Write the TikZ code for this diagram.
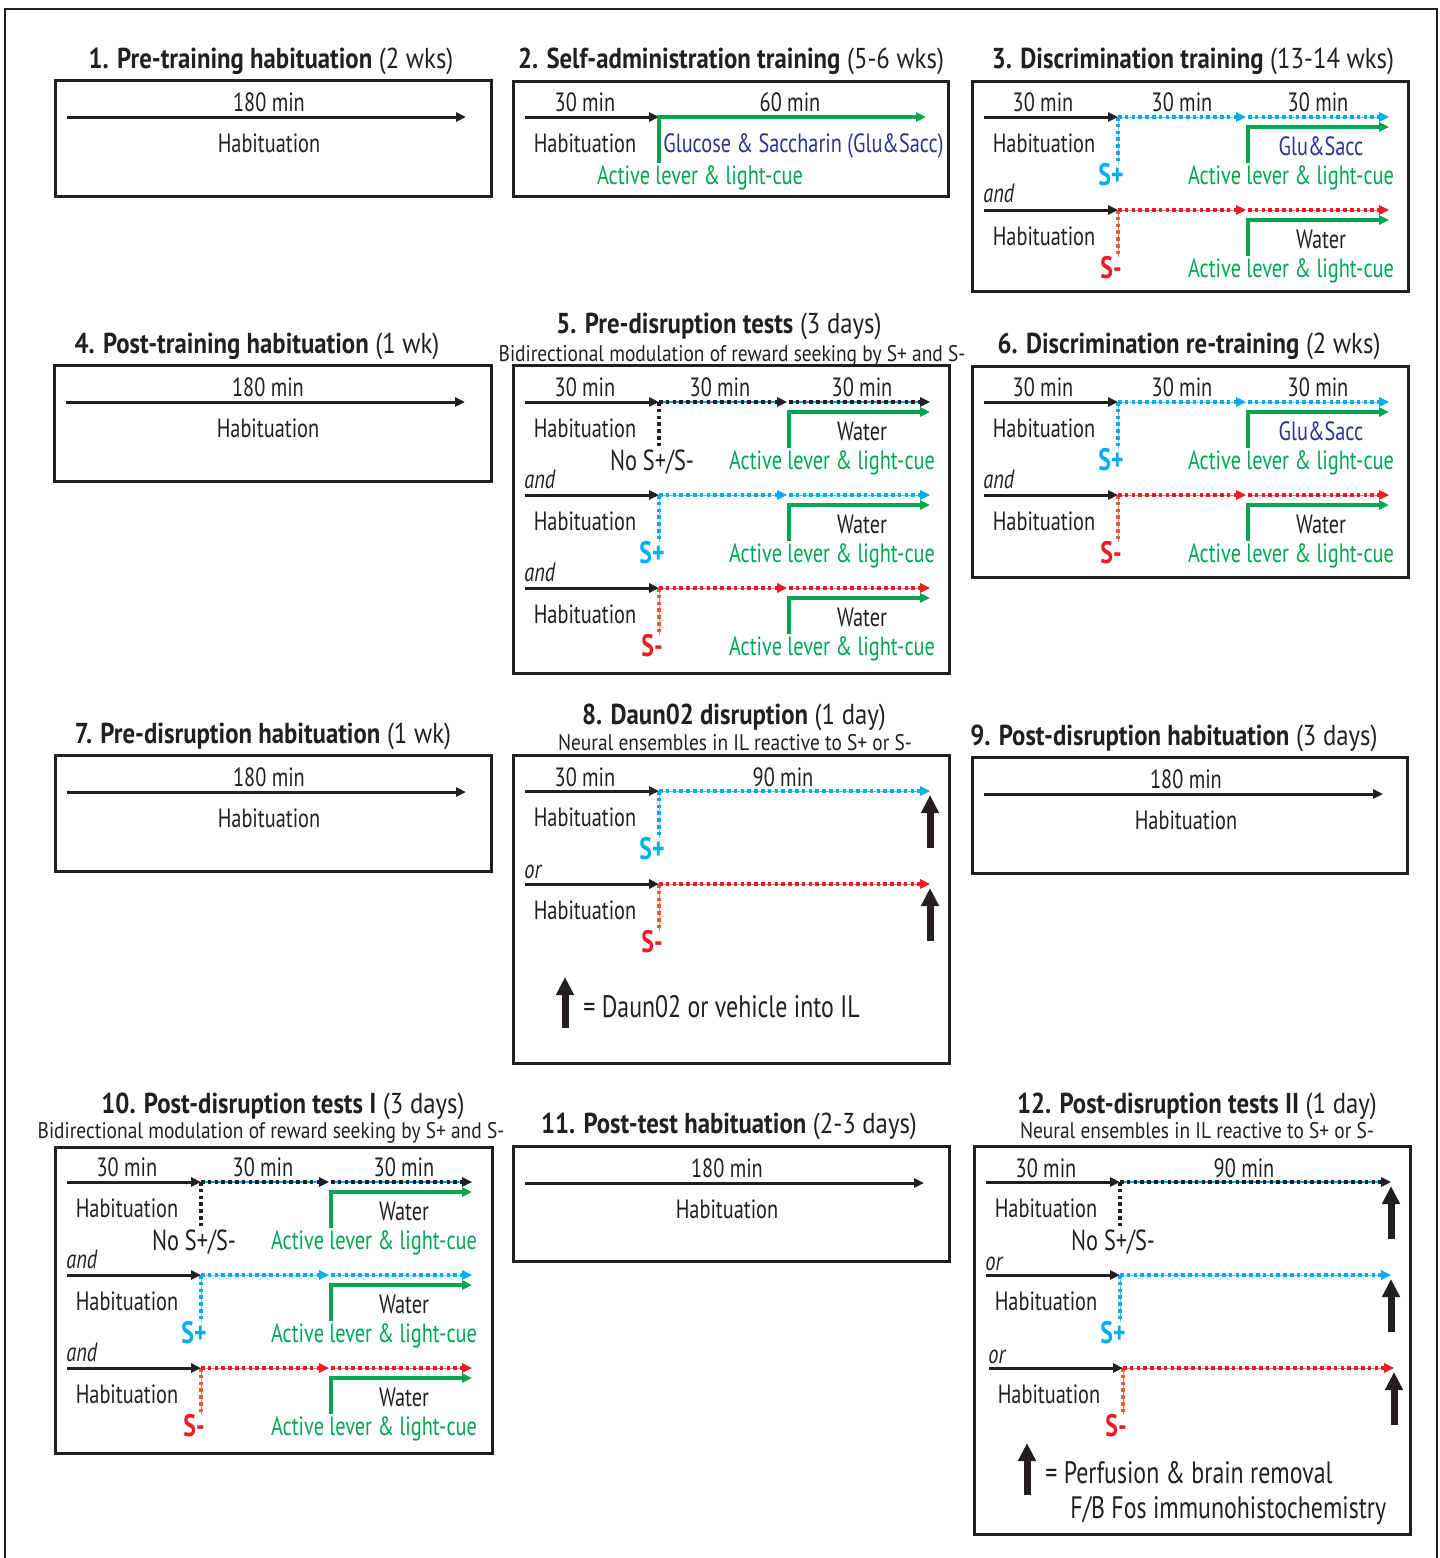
\documentclass[tikz,border=0pt]{standalone}
\usepackage{fontspec}
\setmainfont{PT Sans}[FakeStretch=0.77]
\newfontfamily\ttlfont{PT Sans}[FakeStretch=0.86]
\usetikzlibrary{arrows.meta,fit}
\definecolor{txt}{HTML}{231F20}
\definecolor{cy}{HTML}{00AEEF}
\definecolor{rd}{HTML}{ED1C24}
\definecolor{ro}{HTML}{F15A29}
\definecolor{gr}{HTML}{00A651}
\definecolor{nv}{HTML}{2E3192}
\tikzset{
  lbl/.style={anchor=base,inner sep=0pt,text=txt,font=\fontsize{13.2}{15}\selectfont},
  lblw/.style={lbl,anchor=base west},
  ttl/.style={anchor=base,inner sep=0pt,text=txt,font=\ttlfont\fontsize{14.4}{16}\selectfont},
  subt/.style={anchor=base,inner sep=0pt,text=txt,font=\ttlfont\fontsize{11.3}{13}\selectfont},
  andl/.style={lblw,font=\itshape\fontsize{13.2}{15}\selectfont},
  cueP/.style={lbl,text=cy,font=\bfseries\fontsize{15.5}{17}\selectfont},
  cueM/.style={lbl,text=rd,font=\bfseries\fontsize{15.5}{17}\selectfont},
  cueN/.style={lbl,font=\fontsize{14.5}{16}\selectfont},
  legend/.style={lblw,font=\fontsize{15.5}{17}\selectfont},
  frame/.style={draw=txt,line width=1.5pt,inner sep=0pt},
  tip/.style={-{Triangle[length=5pt,width=4.5pt]}},
  blk/.style={draw=txt,line width=1.5pt,tip},
  grn/.style={draw=gr,line width=1.6pt,tip},
  dots/.style={line width=1.7pt,dash pattern=on 1.8pt off 1.6pt},
  cyl/.style={draw=cy,dots,tip,
     preaction={draw=cy!60,line width=0.5pt,solid}},
  rdl/.style={draw=rd,dots,tip,
     preaction={draw=rd!60,line width=0.5pt,solid}},
  nol/.style={draw=txt,dots,tip,
     preaction={draw=cy,line width=0.6pt,solid}},
  cyl-v/.style={draw=cy,dots,
     preaction={draw=cy!60,line width=0.5pt,solid}},
  rdl-v/.style={draw=ro,dots,
     preaction={draw=rd!60,line width=0.5pt,solid}},
  nol-v/.style={draw=txt,dots},
  bigup/.style={draw=txt,line width=3.5pt,-{Triangle[length=9pt,width=8.5pt]}},
}
% simple habituation box
\newcommand\SimpleBox[5]{%
  \coordinate (#1tl) at (#2,#3);
  \coordinate (#1br) at (#4,#5);
  \node[frame,fit=(#1tl)(#1br)] (#1) {};
  \coordinate (#1a) at (#2+12,#3+37);
  \coordinate (#1b) at (#2+411,#3+37);
  \draw[blk] (#1a) -- (#1b);
  \node[lbl] (#1t) at (#2+214,#3+31) {180 min};
  \node[lbl] (#1h) at (#2+214,#3+72) {Habituation};
}
% box frame only
\newcommand\FrameBox[5]{%
  \coordinate (#1tl) at (#2,#3);
  \coordinate (#1br) at (#4,#5);
  \node[frame,fit=(#1tl)(#1br)] (#1) {};
}
% three-phase row
\newcommand\TriRow[7]{%
  \coordinate (#1s) at (#2+12,#3);
  \coordinate (#1m) at (#2+146,#3);
  \coordinate (#1n) at (#2+276,#3);
  \coordinate (#1e) at (#2+417,#3);
  \coordinate (#1v) at (#2+146,#3+47);
  \coordinate (#1g) at (#2+276,#3+46);
  \coordinate (#1gt) at (#2+276,#3+10);
  \coordinate (#1ge) at (#2+417,#3+10);
  \draw[#4-v] (#1m) -- (#1v);
  \draw[blk] (#1s) -- (#1m);
  \draw[#4,shorten >=1pt] (#1m) -- (#1n);
  \draw[#4] (#1n) -- (#1e);
  \draw[grn] (#1g) -- (#1gt) -- (#1ge);
  \node[lbl] (#1h) at (#2+72,#3+35) {Habituation};
  \node[#5] (#1c) at (#2+139,#3+68) {#6};
  \node[lbl] (#1r) at (#2+349,#3+38) {#7};
  \node[lbl,text=gr] (#1l) at (#2+319,#3+67) {Active lever \& light-cue};
}
% two-phase row with up arrow
\newcommand\TwoRow[6]{%
  \coordinate (#1s) at (#2+12,#3);
  \coordinate (#1m) at (#2+146,#3);
  \coordinate (#1e) at (#2+417,#3);
  \coordinate (#1v) at (#2+146,#3+47);
  \coordinate (#1ub) at (#2+417,#3+57);
  \coordinate (#1ut) at (#2+417,#3+4);
  \draw[#4-v] (#1m) -- (#1v);
  \draw[blk] (#1s) -- (#1m);
  \draw[#4] (#1m) -- (#1e);
  \draw[bigup] (#1ub) -- (#1ut);
  \node[lbl] (#1h) at (#2+72,#3+35) {Habituation};
  \node[#5] (#1c) at (#2+139,#3+68) {#6};
}
\begin{document}
\begin{tikzpicture}[x=0.5pt,y=-0.5pt]
\useasboundingbox (0,0) rectangle (1440,1558);
% outer frame
\coordinate (o1) at (5,1565);
\coordinate (o2) at (5,9);
\coordinate (o3) at (1437,9);
\coordinate (o4) at (1437,1565);
\draw[draw=txt,line width=0.75pt] (o1) -- (o2) -- (o3) -- (o4);

% ---------- titles ----------
\node[ttl] (t1) at (271,68) {\textbf{1. Pre-training habituation} (2 wks)};
\node[ttl] (t2) at (731,68) {\textbf{2. Self-administration training} (5-6 wks)};
\node[ttl] (t3) at (1193,68) {\textbf{3. Discrimination training} (13-14 wks)};
\node[ttl] (t4) at (257,353) {\textbf{4. Post-training habituation} (1 wk)};
\node[ttl] (t5) at (719,333) {\textbf{5. Pre-disruption tests} (3 days)};
\node[subt] (s5) at (732,361) {Bidirectional modulation of reward seeking by S+ and S-};
\node[ttl] (t6) at (1189,353) {\textbf{6. Discrimination re-training} (2 wks)};
\node[ttl] (t7) at (263,743) {\textbf{7. Pre-disruption habituation} (1 wk)};
\node[ttl] (t8) at (734,724) {\textbf{8. Daun02 disruption} (1 day)};
\node[subt] (s8) at (735,750) {Neural ensembles in IL reactive to S+ or S-};
\node[ttl] (t9) at (1174,745) {\textbf{9. Post-disruption habituation} (3 days)};
\node[ttl] (t10) at (283,1113) {\textbf{10. Post-disruption tests I} (3 days)};
\node[subt] (s10) at (271,1138) {Bidirectional modulation of reward seeking by S+ and S-};
\node[ttl] (t11) at (729,1133) {\textbf{11. Post-test habituation} (2-3 days)};
\node[ttl] (t12) at (1197,1113) {\textbf{12. Post-disruption tests II} (1 day)};
\node[subt] (s12) at (1197,1138) {Neural ensembles in IL reactive to S+ or S-};

% ---------- simple boxes ----------
\SimpleBox{b1}{55}{80}{491}{196}
\SimpleBox{b4}{54}{365}{491}{481}
\SimpleBox{b7}{55}{755}{491}{871}
\SimpleBox{b9}{972}{757}{1407}{873}
\SimpleBox{b11}{513}{1146}{949}{1261}

% ---------- box 2 ----------
\FrameBox{b2}{513}{81}{948}{196}
\coordinate (b2s) at (525,117);
\coordinate (b2m) at (659,117);
\coordinate (b2g) at (659,163);
\coordinate (b2e) at (926,117);
\draw[blk] (b2s) -- (b2m);
\draw[grn] (b2g) -- (b2m) -- (b2e);
\node[lbl] (b2t1) at (585,111) {30 min};
\node[lbl] (b2t2) at (790,111) {60 min};
\node[lbl] (b2h) at (585,152) {Habituation};
\node[lblw,text=nv] (b2r) at (663,152) {Glucose \& Saccharin (Glu\&Sacc)};
\node[lbl,text=gr] (b2l) at (700,184) {Active lever \& light-cue};

% ---------- box 3 ----------
\FrameBox{b3}{972}{81}{1408}{291}
\node[lbl] (b3t1) at (1043,111) {30 min};
\node[lbl] (b3t2) at (1182,111) {30 min};
\node[lbl] (b3t3) at (1318,111) {30 min};
\TriRow{b3a}{972}{117}{cyl}{cueP}{S+}{\textcolor{nv}{Glu\&Sacc}}
\node[andl] (b3and) at (983,202) {and};
\TriRow{b3b}{972}{210}{rdl}{cueM}{S-}{Water}

% ---------- box 6 ----------
\FrameBox{b6}{972}{366}{1408}{577}
\node[lbl] (b6t1) at (1043,396) {30 min};
\node[lbl] (b6t2) at (1182,396) {30 min};
\node[lbl] (b6t3) at (1318,396) {30 min};
\TriRow{b6a}{972}{402}{cyl}{cueP}{S+}{\textcolor{nv}{Glu\&Sacc}}
\node[andl] (b6and) at (983,488) {and};
\TriRow{b6b}{972}{495}{rdl}{cueM}{S-}{Water}

% ---------- box 5 ----------
\FrameBox{b5}{513}{365}{949}{673}
\node[lbl] (b5t1) at (585,396) {30 min};
\node[lbl] (b5t2) at (720,396) {30 min};
\node[lbl] (b5t3) at (862,396) {30 min};
\TriRow{b5a}{513}{402}{nol}{cueN}{No S+/S-}{Water}
\node[andl] (b5and1) at (524,488) {and};
\TriRow{b5b}{513}{495}{cyl}{cueP}{S+}{Water}
\node[andl] (b5and2) at (524,581) {and};
\TriRow{b5c}{513}{588}{rdl}{cueM}{S-}{Water}

% ---------- box 10 ----------
\FrameBox{b10}{55}{1147}{492}{1453}
\node[lbl] (b10t1) at (127,1176) {30 min};
\node[lbl] (b10t2) at (263,1176) {30 min};
\node[lbl] (b10t3) at (404,1176) {30 min};
\TriRow{b10a}{55}{1182}{nol}{cueN}{No S+/S-}{Water}
\node[andl] (b10and1) at (66,1268) {and};
\TriRow{b10b}{55}{1275}{cyl}{cueP}{S+}{Water}
\node[andl] (b10and2) at (66,1361) {and};
\TriRow{b10c}{55}{1368}{rdl}{cueM}{S-}{Water}

% ---------- box 8 ----------
\FrameBox{b8}{513}{755}{949}{1063}
\node[lbl] (b8t1) at (585,786) {30 min};
\node[lbl] (b8t2) at (783,786) {90 min};
\TwoRow{b8a}{513}{791}{cyl}{cueP}{S+}
\node[andl] (b8or) at (524,878) {or};
\TwoRow{b8b}{513}{884}{rdl}{cueM}{S-}
\coordinate (b8lb) at (565,1028);
\coordinate (b8lt) at (565,977);
\draw[bigup] (b8lb) -- (b8lt);
\node[legend] (b8leg) at (583,1017) {= Daun02 or vehicle into IL};

% ---------- box 12 ----------
\FrameBox{b12}{974}{1146}{1410}{1534}
\node[lbl] (b12t1) at (1046,1177) {30 min};
\node[lbl] (b12t2) at (1244,1177) {90 min};
\TwoRow{b12a}{974}{1182}{nol}{cueN}{No S+/S-}
\node[andl] (b12or1) at (985,1270) {or};
\TwoRow{b12b}{974}{1275}{cyl}{cueP}{S+}
\node[andl] (b12or2) at (988,1363) {or};
\TwoRow{b12c}{977}{1368}{rdl}{cueM}{S-}
\coordinate (b12lb) at (1027,1495);
\coordinate (b12lt) at (1027,1443);
\draw[bigup] (b12lb) -- (b12lt);
\node[legend] (b12leg1) at (1045,1483) {= Perfusion \& brain removal};
\node[legend] (b12leg2) at (1070,1518) {F/B Fos immunohistochemistry};
\end{tikzpicture}
\end{document}
